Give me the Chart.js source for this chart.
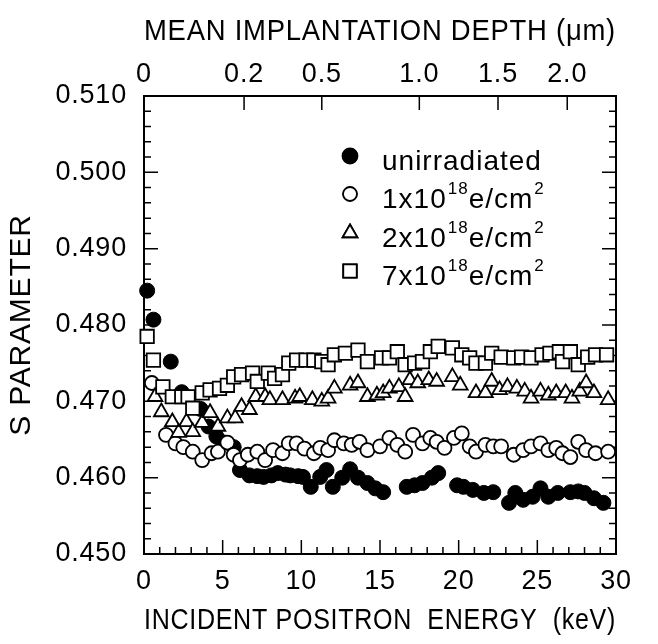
<!DOCTYPE html>
<html>
<head>
<meta charset="utf-8">
<script src="https://cdn.jsdelivr.net/npm/chart.js@4.4.1/dist/chart.umd.min.js"></script>
<style>
  html, body { margin: 0; padding: 0; background: #fff; }
</style>
</head>
<body>
<canvas id="myChart" width="658" height="644"></canvas>
<script>
// S parameter vs incident positron energy (keV)
const unirrEnergy = [0.2, 0.6, 1.7, 2.4, 3.6, 4.1, 4.6, 5.1, 5.7, 6.1, 6.7, 7.2, 7.6, 8.1, 8.5, 9.0, 9.3, 9.8, 10.1, 10.6, 11.2, 11.6, 12.0, 12.6, 13.1, 13.6, 14.2, 14.7, 15.2, 16.7, 17.2, 17.7, 18.3, 18.7, 19.9, 20.3, 20.9, 21.6, 22.2, 23.2, 23.6, 24.1, 24.7, 25.2, 25.7, 26.3, 27.1, 27.6, 28.0, 28.6, 29.2];
const unirrS = [0.4845, 0.4807, 0.4752, 0.4712, 0.4690, 0.4667, 0.4654, 0.4646, 0.4640, 0.4610, 0.4603, 0.4602, 0.4601, 0.4603, 0.4606, 0.4604, 0.4603, 0.4602, 0.4601, 0.4588, 0.4601, 0.4610, 0.4588, 0.4600, 0.4611, 0.4600, 0.4593, 0.4586, 0.4581, 0.4588, 0.4590, 0.4593, 0.4600, 0.4606, 0.4590, 0.4588, 0.4584, 0.4580, 0.4581, 0.4567, 0.4580, 0.4571, 0.4575, 0.4586, 0.4575, 0.4580, 0.4581, 0.4582, 0.4580, 0.4573, 0.4567];

const dose1Energy = [0.5, 1.4, 2.0, 2.5, 3.1, 3.7, 4.3, 4.7, 5.3, 5.7, 6.1, 6.6, 7.2, 7.7, 8.2, 8.8, 9.2, 9.7, 10.2, 10.8, 11.2, 11.7, 12.1, 12.7, 13.2, 13.7, 14.2, 15.0, 15.6, 16.1, 16.6, 17.1, 17.7, 18.2, 18.6, 19.1, 19.7, 20.2, 20.7, 21.1, 21.7, 22.2, 22.7, 23.5, 24.1, 24.6, 25.2, 25.7, 26.2, 26.6, 27.1, 27.6, 28.1, 28.7, 29.5];
const dose1S = [0.4724, 0.4656, 0.4645, 0.4640, 0.4634, 0.4623, 0.4632, 0.4634, 0.4646, 0.4630, 0.4623, 0.4630, 0.4634, 0.4623, 0.4636, 0.4632, 0.4645, 0.4645, 0.4638, 0.4632, 0.4639, 0.4636, 0.4649, 0.4645, 0.4643, 0.4647, 0.4636, 0.4641, 0.4652, 0.4643, 0.4634, 0.4656, 0.4645, 0.4652, 0.4647, 0.4639, 0.4652, 0.4658, 0.4641, 0.4634, 0.4643, 0.4641, 0.4641, 0.4630, 0.4636, 0.4641, 0.4645, 0.4636, 0.4639, 0.4632, 0.4627, 0.4647, 0.4636, 0.4632, 0.4634];

const dose2Energy = [0.7, 1.1, 1.8, 2.2, 2.7, 3.1, 3.7, 4.2, 4.7, 5.3, 5.8, 6.2, 6.7, 7.1, 7.7, 8.0, 8.8, 9.6, 9.9, 10.7, 11.3, 11.7, 12.1, 13.1, 13.6, 14.2, 14.8, 15.2, 15.6, 16.2, 16.6, 16.9, 17.4, 18.1, 18.6, 19.6, 20.1, 21.1, 21.7, 22.1, 22.6, 23.1, 23.7, 24.2, 24.6, 25.2, 25.7, 26.2, 26.8, 27.2, 27.7, 28.1, 28.6, 29.5];
const dose2S = [0.4706, 0.4686, 0.4673, 0.4659, 0.4673, 0.4660, 0.4672, 0.4685, 0.4667, 0.4678, 0.4678, 0.4693, 0.4689, 0.4706, 0.4706, 0.4702, 0.4702, 0.4704, 0.4706, 0.4702, 0.4700, 0.4704, 0.4717, 0.4721, 0.4724, 0.4706, 0.4708, 0.4711, 0.4717, 0.4719, 0.4706, 0.4728, 0.4724, 0.4728, 0.4726, 0.4732, 0.4721, 0.4711, 0.4711, 0.4726, 0.4715, 0.4719, 0.4717, 0.4713, 0.4704, 0.4713, 0.4708, 0.4711, 0.4711, 0.4704, 0.4713, 0.4724, 0.4711, 0.4702];

const dose7Energy = [0.2, 0.6, 1.2, 1.8, 2.4, 2.8, 3.1, 3.7, 4.2, 4.8, 5.3, 5.7, 6.2, 6.9, 7.2, 7.9, 8.3, 8.8, 9.2, 9.7, 10.3, 10.8, 11.3, 11.7, 12.1, 12.8, 13.6, 14.2, 15.1, 15.6, 16.1, 16.6, 17.2, 17.7, 18.2, 18.7, 19.6, 20.2, 20.7, 21.1, 21.7, 22.1, 22.7, 23.5, 24.0, 24.6, 25.3, 25.8, 26.4, 26.6, 27.1, 27.6, 28.2, 28.7, 29.4];
const dose7S = [0.4785, 0.4754, 0.4719, 0.4706, 0.4706, 0.4706, 0.4691, 0.4711, 0.4715, 0.4717, 0.4721, 0.4732, 0.4735, 0.4737, 0.4726, 0.4737, 0.4730, 0.4735, 0.4750, 0.4754, 0.4754, 0.4754, 0.4752, 0.4748, 0.4761, 0.4763, 0.4767, 0.4752, 0.4757, 0.4757, 0.4765, 0.4748, 0.4750, 0.4752, 0.4765, 0.4772, 0.4770, 0.4761, 0.4757, 0.4750, 0.4750, 0.4763, 0.4758, 0.4757, 0.4758, 0.4757, 0.4761, 0.4763, 0.4765, 0.4752, 0.4765, 0.4748, 0.4758, 0.4761, 0.4761];

// axis ticks
const energyTicks = [0, 5, 10, 15, 20, 25, 30];
const sTicks = [0.450, 0.460, 0.470, 0.480, 0.490, 0.500, 0.510];
const depthLabels = ['0', '0.2', '0.5', '1.0', '1.5', '2.0'];
const depthEnergy = [0, 6.36, 11.3, 17.5, 22.5, 26.9]; // where each depth falls on the energy axis

const family = "'Liberation Sans', Arial, sans-serif";
const labelFont = { family: family, size: 27 };
const titleFont = { family: family, size: 29 };
const letterGap = '0.8px';

function toPoints(xs, ys) {
    return xs.map((x, i) => ({ x: x, y: ys[i] }));
}

// the old figure has slightly loose letter spacing
const spacing = {
    id: 'spacing',
    beforeLayout(chart) { chart.ctx.letterSpacing = letterGap; },
    beforeDraw(chart) { chart.ctx.letterSpacing = letterGap; }
};

// frame + inward tick marks, drawn under the markers
const frameTicks = {
    id: 'frameTicks',
    beforeDatasetsDraw(chart) {
        const { ctx, chartArea: a, scales } = chart;
        ctx.save();
        ctx.strokeStyle = '#000';
        ctx.lineWidth = 2;
        ctx.strokeRect(a.left, a.top, a.right - a.left, a.bottom - a.top);
        ctx.lineWidth = 1.5;
        ctx.beginPath();
        for (let e = 0; e <= 30; e++) {
            const x = scales.x.getPixelForValue(e);
            const len = e % 5 === 0 ? 14 : 7;
            ctx.moveTo(x, a.bottom);
            ctx.lineTo(x, a.bottom - len);
        }
        depthEnergy.forEach(e => {
            const x = scales.x.getPixelForValue(e);
            ctx.moveTo(x, a.top);
            ctx.lineTo(x, a.top + 14);
        });
        for (let i = 0; i <= 30; i++) {
            const y = scales.y.getPixelForValue(0.45 + i * 0.002);
            const len = i % 5 === 0 ? 14 : 7;
            ctx.moveTo(a.left, y);
            ctx.lineTo(a.left + len, y);
            ctx.moveTo(a.right, y);
            ctx.lineTo(a.right - len, y);
        }
        ctx.stroke();
        ctx.restore();
    }
};

// legend inside the plot, with superscripts
const legendBox = {
    id: 'legendBox',
    afterDraw(chart) {
        const ctx = chart.ctx;
        const rows = [156, 194, 233, 271];
        const markX = 350;
        const textX = 382;
        ctx.save();
        chart.data.datasets.forEach((ds, i) => {
            const y = rows[i];
            Chart.helpers.drawPoint(ctx, {
                pointStyle: ds.pointStyle,
                radius: ds.pointRadius,
                borderWidth: ds.borderWidth,
                rotation: 0
            }, markX, y);
            ctx.fillStyle = ds.backgroundColor;
            ctx.strokeStyle = ds.borderColor;
            ctx.lineWidth = ds.borderWidth;
            ctx.fill();
            ctx.stroke();

            ctx.fillStyle = '#000';
            ctx.textBaseline = 'middle';
            ctx.letterSpacing = '1px';
            let x = textX;
            const parts = ds.label.split(/\^(\d+)/);
            parts.forEach((p, k) => {
                if (k % 2 === 1) {
                    ctx.font = '17px ' + family;
                    ctx.fillText(p, x + 1, y - 5);
                    x += ctx.measureText(p).width + 1;
                } else if (p) {
                    ctx.font = '28px ' + family;
                    ctx.fillText(p, x, y + 6);
                    x += ctx.measureText(p).width;
                }
            });
        });
        ctx.restore();
    }
};

const ctx = document.getElementById('myChart').getContext('2d');
const myChart = new Chart(ctx, {
    type: 'scatter',
    data: {
        datasets: [
            {
                label: 'unirradiated', data: toPoints(unirrEnergy, unirrS),
                pointStyle: 'circle', pointRadius: 7.5, borderWidth: 1,
                backgroundColor: '#000', borderColor: '#000', order: 4
            },
            {
                label: '1x10^18e/cm^2', data: toPoints(dose1Energy, dose1S),
                pointStyle: 'circle', pointRadius: 7, borderWidth: 1.8,
                backgroundColor: '#fff', borderColor: '#000', order: 3
            },
            {
                label: '2x10^18e/cm^2', data: toPoints(dose2Energy, dose2S),
                pointStyle: 'triangle', pointRadius: 8.5, borderWidth: 1.8,
                backgroundColor: '#fff', borderColor: '#000', order: 2
            },
            {
                label: '7x10^18e/cm^2', data: toPoints(dose7Energy, dose7S),
                pointStyle: 'rect', pointRadius: 9.5, borderWidth: 1.8,
                backgroundColor: '#fff', borderColor: '#000', order: 1
            }
        ]
    },
    options: {
        responsive: false,
        animation: false,
        clip: false,
        layout: { padding: 0 },
        plugins: {
            legend: { display: false },
            tooltip: { enabled: false }
        },
        scales: {
            x: {
                type: 'linear', position: 'bottom', min: 0, max: 30,
                afterBuildTicks: s => { s.ticks = energyTicks.map(v => ({ value: v })); },
                ticks: { font: labelFont, color: '#000', padding: 11, maxRotation: 0, autoSkip: false },
                grid: { display: false, drawTicks: false },
                border: { display: false },
                title: { display: true, text: 'INCIDENT POSITRON  ENERGY  (keV)', font: titleFont, color: '#000', padding: { top: 0, bottom: 6 } },
                afterFit: s => { s.height = 90; }
            },
            top: {
                type: 'linear', position: 'top', min: 0, max: 30,
                afterBuildTicks: s => { s.ticks = depthEnergy.map(v => ({ value: v })); },
                ticks: { font: labelFont, color: '#000', padding: 5, maxRotation: 0, autoSkip: false,
                    callback: (v, i) => depthLabels[i] },
                grid: { display: false, drawTicks: false },
                border: { display: false },
                title: { display: true, text: 'MEAN IMPLANTATION DEPTH (\u03bcm)', font: titleFont, color: '#000', padding: { top: 15, bottom: 0 } },
                afterFit: s => { s.height = 96; }
            },
            y: {
                type: 'linear', position: 'left', min: 0.45, max: 0.51,
                afterBuildTicks: s => { s.ticks = sTicks.map(v => ({ value: v })); },
                ticks: { font: labelFont, color: '#000', padding: 17, callback: v => v.toFixed(3) },
                grid: { display: false, drawTicks: false },
                border: { display: false },
                title: { display: true, text: 'S PARAMETER', font: { family: family, size: 30 }, color: '#000', padding: { top: 4, bottom: 0 } },
                afterFit: s => { s.width = 144; }
            },
            right: {
                type: 'linear', position: 'right', min: 0.45, max: 0.51,
                ticks: { display: false },
                grid: { display: false, drawTicks: false },
                border: { display: false },
                afterFit: s => { s.width = 42; }
            }
        }
    },
    plugins: [spacing, frameTicks, legendBox]
});
</script>
</body>
</html>
